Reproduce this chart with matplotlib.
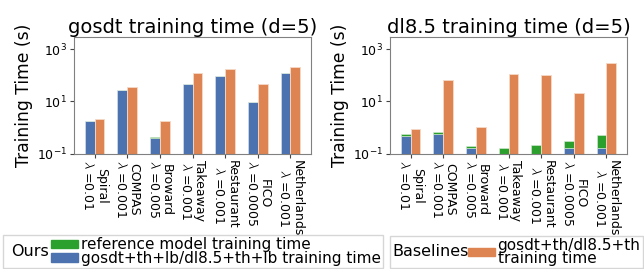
import numpy as np
import matplotlib
matplotlib.use("Agg")
import matplotlib.pyplot as plt
from matplotlib.patches import Patch
from matplotlib.offsetbox import HPacker, DrawingArea

plt.rcParams['mathtext.fontset'] = 'cm'

datasets = ["Spiral", "COMPAS", "Broward", "Takeaway", "Restaurant", "FICO", "Netherlands"]
lambdas = ["0.01", "0.001", "0.005", "0.001", "0.001", "0.0005", "0.001"]

# gosdt (d=5)
gosdt_ours = [1.8, 27, 0.39, 47, 98, 9.6, 125]
gosdt_ref = [0.02, 0.3, 0.045, 0.5, 0.8, 0.1, 1.0]
gosdt_base = [2.1, 35, 1.8, 120, 170, 48, 210]

# dl8.5 (d=5)
dl85_ours = [0.49, 0.56, 0.16, 0.05, 0.05, 0.165, 0.16]
dl85_ref = [0.05, 0.10, 0.03, 0.115, 0.16, 0.135, 0.36]
dl85_base = [0.87, 69, 1.07, 110, 104, 21, 290]

blue = "#4C72B0"
orange = "#DD8452"
green = "#2ca02c"

fig = plt.figure(figsize=(6.44, 2.69), dpi=100)
ax1 = fig.add_axes([74/644, 1 - 153.5/269, 237/644, 116.5/269])
ax2 = fig.add_axes([390/644, 1 - 153.5/269, 237/644, 116.5/269])

labels = [f"{d}\n$\\lambda$ =" + l for d, l in zip(datasets, lambdas)]
x = np.arange(len(datasets))
w = 0.3


def draw(ax, ours, ref, base, title):
    ax.bar(x - w/2, ours, w, color=blue, edgecolor="#dfe6f0", linewidth=0.4)
    ax.bar(x - w/2, ref, w, bottom=ours, color=green, edgecolor="#d8ecd8", linewidth=0.4)
    ax.bar(x + w/2, base, w, color=orange, edgecolor="#f5d9c8", linewidth=0.6)
    ax.set_yscale("log")
    ax.set_ylim(0.1, 3000)
    ax.set_yticks([0.1, 10, 1000])
    ax.yaxis.set_minor_locator(matplotlib.ticker.NullLocator())
    ax.set_xticks(x)
    ax.set_xticklabels(labels, rotation=270, fontsize=9, linespacing=0.95)
    ax.tick_params(axis="y", labelsize=9)
    ax.tick_params(length=3, width=0.8, color="#444444", pad=2)
    for s in ax.spines.values():
        s.set_color("#808080")
    ax.set_title(title, fontsize=14, pad=3)
    ax.set_ylabel("Training Time (s)", fontsize=12.3)
    ax.yaxis.set_label_coords(-0.172, 0.5)


draw(ax1, gosdt_ours, gosdt_ref, gosdt_base, "gosdt training time (d=5)")
draw(ax2, dl85_ours, dl85_ref, dl85_base, "dl8.5 training time (d=5)")


def side_title(leg, lead, sep):
    # put the legend title to the left of the entries
    kids = [leg._legend_title_box, leg._legend_handle_box]
    if lead:
        kids.insert(0, DrawingArea(lead, 1))
    box = HPacker(pad=leg.borderpad * 11 * 100 / 72, sep=sep, align="center", children=kids)
    box.set_figure(fig)
    box.set_offset(leg._findoffset)
    leg._legend_box = box


common = dict(loc="lower left", fontsize=11, title_fontsize=11.5, borderpad=0.1,
              labelspacing=-0.08, handlelength=1.75,
              handleheight=0.45, borderaxespad=0, fancybox=False, edgecolor="#cccccc")

leg1 = fig.legend(handles=[Patch(color=green), Patch(color=blue)],
                  labels=["reference model training time", "gosdt+th+lb/dl8.5+th+lb training time"],
                  title="Ours", bbox_to_anchor=(3/644, 1/269), handletextpad=0.22, **common)
side_title(leg1, 2, 2)
leg2 = fig.legend(handles=[Patch(color=orange)],
                  labels=["gosdt+th/dl8.5+th\ntraining time"],
                  title="Baselines", bbox_to_anchor=(390/644, 1/269), handletextpad=0.15, **common)
leg2.get_texts()[0].set_linespacing(0.85)
side_title(leg2, 0, 0)

fig.savefig("out.png", dpi=100)
